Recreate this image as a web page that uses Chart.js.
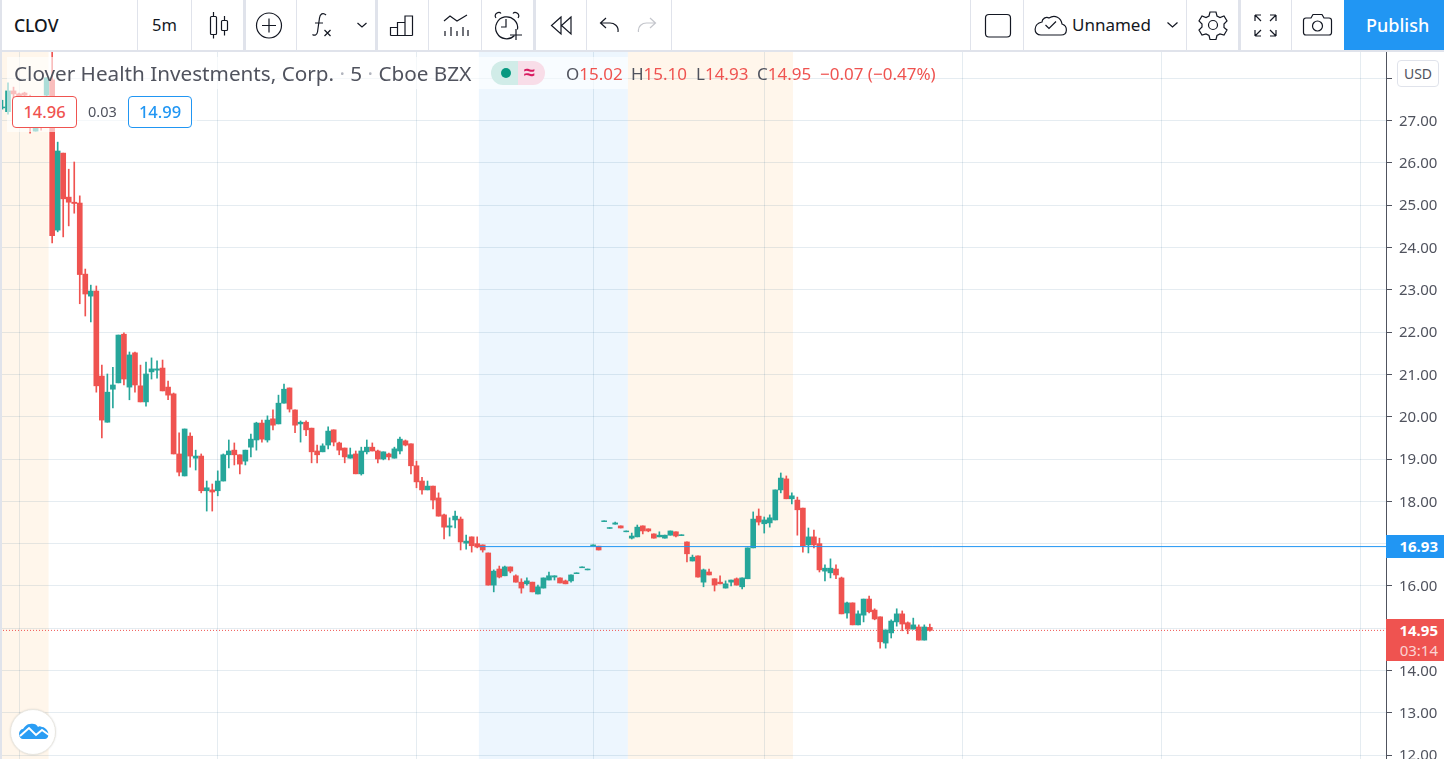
<!DOCTYPE html>
<html>
<head>
<meta charset="utf-8">
<title>CLOV 5m</title>
<script src="https://cdn.jsdelivr.net/npm/chart.js@4"></script>
<style>
  html, body { margin: 0; padding: 0; background: #fff; overflow: hidden; }
  body { width: 1444px; height: 759px; position: relative; font-family: "Noto Sans", sans-serif; color: #131722; }
  #chartCanvas { position: absolute; left: 0; top: 52px; }
  .abs { position: absolute; white-space: nowrap; }
  #topbar { position: absolute; left: 0; top: 0; width: 1444px; height: 50px; background: #fff; border-bottom: 2px solid #e0e3eb; }
  #leftedge { position: absolute; left: 0; top: 0; width: 2px; height: 759px; background: #e0e3eb; }
  .sep { position: absolute; top: 0; width: 1px; height: 50px; background: #e0e3eb; }
  .sep.thick { width: 3px; margin-left: -1px; }
  svg.ic { position: absolute; left: 0; top: 0; }
  .legendbg { position: absolute; background: rgba(255,255,255,.62); }
  .box { position: absolute; height: 30px; line-height: 29px; border: 1px solid; border-radius: 4px; background: #fff; font-size: 16.5px; font-weight: 500; text-align: center; box-sizing: content-box; }
  .tag { position: absolute; left: 1386px; width: 58px; color: #fff; font-size: 15px; font-weight: 700; text-align: right; box-sizing: border-box; padding-right: 6px; }
  .g { color: #50535e; }
  .r { color: #ef5350; }
</style>
</head>
<body>
<canvas id="chartCanvas" width="1444" height="707"></canvas>

<div class="legendbg" style="left:7px;top:57px;width:621px;height:32px"></div>
<div class="legendbg" style="left:7px;top:89px;width:190px;height:43px"></div>

<div id="topbar"></div>
<div id="leftedge"></div>
<div class="sep" style="left:137px"></div>
<div class="sep" style="left:191px"></div>
<div class="sep thick" style="left:244px"></div>
<div class="sep" style="left:296px"></div>
<div class="sep thick" style="left:376px"></div>
<div class="sep" style="left:428px"></div>
<div class="sep" style="left:481px"></div>
<div class="sep thick" style="left:534px"></div>
<div class="sep" style="left:586px"></div>
<div class="sep" style="left:671px"></div>
<div class="sep" style="left:970px"></div>
<div class="sep" style="left:1023px"></div>
<div class="sep" style="left:1186px"></div>
<div class="sep thick" style="left:1239px"></div>
<div class="sep" style="left:1291px"></div>
<div class="abs" style="left:1344px;top:0;width:100px;height:50px;background:#2196f3"></div>

<div class="abs" style="left:14px;top:13px;font-size:17.5px;font-weight:500;line-height:24px">CLOV</div>
<div class="abs" style="left:152px;top:13px;font-size:16.500px;line-height:24px">5m</div>
<div class="abs" style="left:1072px;top:13px;font-size:17px;line-height:24px">Unnamed</div>
<div class="abs" style="left:1366px;top:13px;font-size:18px;font-weight:500;line-height:24px;color:#fff">Publish</div>

<svg class="ic" width="1444" height="50" fill="none" stroke="#131722" stroke-width="1.2">
  <!-- candles -->
  <rect x="210.5" y="16.5" width="6" height="18" rx="1"/><path d="M213.5 12v4.5M213.5 34.500v4"/>
  <rect x="221.500" y="20.500" width="6" height="10" rx="1"/><path d="M224.500 16v4.500M224.500 30.500v5"/>
  <!-- plus -->
  <circle cx="269" cy="25.500" r="12.500"/><path d="M269 18.500v14M262 25.500h14"/>
  <!-- fx -->
  <path d="M326 15c-3-3-6-1-6.500 3l-2 14c-.5 3-3 4-5 2.500M315 23h8M324.500 30l6 6M330.500 30l-6 6"/>
  <path d="M357.500 23l4.500 4 4.500-4M1167.500 22.500l5 4.500 5-4.500"/>
  <!-- bars -->
  <path d="M390.500 35.500v-8h7v8M397.500 35.500v-13h7.500v13M405 35.500v-19.500h7.500v19.500M390.500 35.500h22"/>
  <!-- indicators -->
  <path d="M444 21l6-5 7 5 10-6M445 36v-5M451 36v-9M457 36v-5M463 36v-9M468 36v-6"/>
  <!-- alarm -->
  <path d="M514.500 35.500a11 11 0 1 1 3-6"/><path d="M506 19v8h-5M496 18c-3-4 3-7 5-4.500M518 18c3-4-3-7-5-4.500M510 35h12M516 29v11"/>
  <!-- rewind -->
  <path d="M561 17l-9.500 8.500 9.500 8.500zM571 17l-9.500 8.500 9.500 8.500z"/>
  <path d="M618 32c1-6-4-9-8-9h-9M606 18l-5.500 5 5.500 5"/>
  <path stroke="#c4c6cc" d="M638.500 32c-1-6 4-9 8-9h9M650 18l5.500 5-5.500 5"/>
  <!-- layout square -->
  <rect x="985.500" y="14.500" width="25" height="22.500" rx="3.500"/>
  <!-- cloud -->
  <path d="M1041 35h20c7 0 7-9 1-11-1-6-7-10-13-6-3-2-7 1-7 4-9 2-9 13-1 13z"/><path d="M1045.500 25l3.500 3.500 7-7"/>
  <!-- gear -->
  <circle cx="1213" cy="25" r="4.500"/>
  <path d="M1210 12h6l1 4 3 1.500 4-1.500 3 5-3 3v3.500l3 2.500-3 5-4-1-3 1.500-1 4h-6l-1-4-3-1.500-4 1-3-5 3-3v-3l-3-3 3-5 4 1.500 3-1.500z"/>
  <!-- fullscreen -->
  <path d="M1255 15h6M1255 15v6M1255 15l6 6M1276 15h-6M1276 15v6M1276 15l-6 6M1255 36h6M1255 36v-6M1255 36l6-6M1276 36h-6M1276 36v-6M1276 36l-6-6"/>
  <!-- camera -->
  <path d="M1306 18h5l2-3.500h9l2 3.500h5c1.500 0 2.500 1 2.500 2.500v12c0 1.500-1 2.500-2.500 2.500h-23c-1.500 0-2.500-1-2.500-2.500v-12c0-1.500 1-2.500 2.500-2.500z"/><circle cx="1317.500" cy="26" r="5"/>
</svg>

<div class="abs g" style="left:14px;top:59px;font-size:20.7px;line-height:28px">Clover Health Investments, Corp. <span style="color:#b2b5be">·</span> 5 <span style="color:#b2b5be">·</span> Cboe BZX</div>
<div class="abs" style="left:491px;top:61px;width:27px;height:24px;background:#d1ece8;border-radius:12px 0 0 12px"></div>
<div class="abs" style="left:518px;top:61px;width:27px;height:24px;background:#f8dde8;border-radius:0 12px 12px 0"></div>
<div class="abs" style="left:501px;top:68px;width:10px;height:10px;background:#089981;border-radius:50%"></div>
<div class="abs" style="left:524px;top:59px;font-size:20px;line-height:26px;font-weight:700;color:#d81b60">≈</div>

<div class="abs g" style="left:566px;top:62px;font-size:17px;line-height:24px">O<span class="r">15.02</span></div>
<div class="abs g" style="left:631px;top:62px;font-size:17px;line-height:24px">H<span class="r">15.10</span></div>
<div class="abs g" style="left:696px;top:62px;font-size:17px;line-height:24px">L<span class="r">14.93</span></div>
<div class="abs g" style="left:757px;top:62px;font-size:17px;line-height:24px">C<span class="r">14.95</span></div>
<div class="abs r" style="left:820px;top:62px;font-size:17px;line-height:24px">−0.07 (−0.47%)</div>

<div class="box r" style="left:12px;top:96px;width:63px;border-color:#ef5350">14.96</div>
<div class="abs g" style="left:88px;top:100px;font-size:14.5px;line-height:22px">0.03</div>
<div class="box" style="left:128px;top:96px;width:62px;border-color:#2196f3;color:#2196f3">14.99</div>

<div class="abs" style="left:1397px;top:60px;width:40px;height:25px;line-height:25px;border:1px solid #e0e3eb;border-radius:4px;background:#fff;text-align:center;font-size:14px;color:#50535e">USD</div>

<div class="tag" style="top:535px;height:23px;line-height:23px;background:#2196f3">16.93</div>
<div class="tag" style="top:619px;height:42px;line-height:20px;background:#ef5350;padding-top:1px">14.95<br><span style="font-weight:400;color:rgba(255,255,255,.75)">03:14</span></div>

<div class="abs" style="left:10px;top:709px;width:44px;height:44px;border-radius:50%;background:#fff;border:1px solid #e8e6e0;box-shadow:0 0 2px rgba(0,0,0,.12)"></div>
<svg class="ic" width="70" height="759" style="pointer-events:none">
  <path fill="#2a9df4" d="M19 734c0-3 2-5 4-5 2-3 4-5 7-5 3-1 7 0 8 3 1-1 2-1 4 0 2 0 5 2 6 5 1 3 0 7-3 7h-22c-2 0-4-2-4-5z"/>
  <path fill="none" stroke="#fff" stroke-width="2" d="M20 736l9-8 7 7 6-5 7 5"/>
</svg>

<script>
const candleOpen = [
  27.30,27.21,27.70,27.63,27.65,27.48,26.75,27.06,27.60,27.96,
  24.41,26.23,25.19,25.07,25.05,23.37,22.85,22.97,20.96,19.87,
  20.65,20.80,21.95,20.70,21.51,20.73,20.35,21.06,21.10,21.15,
  20.70,20.54,19.12,18.60,19.54,19.02,19.07,18.25,18.27,18.25,
  18.48,19.10,19.21,19.10,18.95,19.28,19.45,19.85,19.45,19.95,
  19.83,20.32,20.68,20.16,19.83,19.87,19.73,19.19,19.17,19.33,
  19.69,19.38,19.26,19.02,19.12,18.65,19.17,19.28,19.19,19.00,
  19.12,19.02,19.19,19.43,19.36,18.84,18.48,18.27,18.36,18.08,
  17.68,17.39,17.56,17.58,17.01,17.16,17.00,16.97,16.78,16.02,
  16.40,16.24,16.45,16.24,16.09,16.05,16.09,15.81,15.95,16.14,
  16.21,16.19,16.12,16.12,16.29,16.43,16.38,16.95,16.94,17.52,
  17.36,17.46,17.42,17.28,17.13,17.16,17.42,17.35,17.23,17.16,
  17.13,17.20,17.28,17.19,17.04,16.59,16.71,16.09,16.33,16.17,
  16.09,15.95,16.09,16.17,15.98,16.17,16.90,17.65,17.47,17.49,
  17.56,18.27,18.53,18.06,18.03,17.84,16.97,17.16,17.00,16.35,
  16.31,16.40,16.19,15.36,15.60,15.08,15.31,15.69,15.43,15.27,
  14.65,14.89,15.15,15.34,15.13,14.98,15.03,14.72,15.02
];
const candleHigh = [
  27.48,27.89,27.79,27.65,27.67,27.60,27.25,27.20,28.01,28.80,
  26.49,26.23,25.85,26.02,25.22,23.49,23.11,23.09,21.22,21.01,
  21.17,21.93,21.98,21.53,21.53,21.22,21.29,21.39,21.32,21.34,
  20.84,20.56,19.62,19.71,19.62,19.21,19.12,18.48,18.41,18.72,
  19.12,19.45,19.38,19.10,19.21,19.59,19.87,19.92,20.02,20.16,
  20.51,20.77,20.68,20.16,19.90,19.90,19.73,19.33,19.36,19.76,
  19.69,19.40,19.26,19.26,19.19,19.28,19.45,19.38,19.21,19.17,
  19.14,19.28,19.52,19.45,19.36,18.95,18.57,18.48,18.36,18.20,
  17.70,17.61,17.77,17.63,17.20,17.16,17.16,16.97,16.78,16.38,
  16.47,16.47,16.45,16.26,16.17,16.19,16.09,16.02,16.19,16.33,
  16.24,16.19,16.14,16.26,16.31,16.45,16.40,16.97,16.94,17.54,
  17.38,17.51,17.42,17.30,17.25,17.44,17.42,17.35,17.23,17.28,
  17.20,17.30,17.28,17.21,17.04,16.73,16.71,16.40,16.40,16.17,
  16.24,16.12,16.14,16.19,16.19,16.90,17.75,17.82,17.63,17.68,
  18.27,18.67,18.60,18.20,18.10,17.84,17.37,17.32,17.13,16.50,
  16.64,16.50,16.21,15.62,15.60,15.41,15.69,15.76,15.46,15.27,
  14.96,15.20,15.46,15.41,15.15,15.24,15.08,15.08,15.10
];
const candleLow = [
  27.27,27.15,27.32,27.37,27.25,26.70,26.75,26.77,27.25,24.11,
  24.37,24.25,24.51,24.81,22.67,22.38,22.24,20.58,19.50,19.87,
  20.21,20.80,20.75,20.40,20.58,20.35,20.25,20.89,20.91,20.61,
  20.40,19.12,18.60,18.60,18.81,18.74,18.20,17.77,17.77,18.13,
  18.48,18.79,18.86,18.65,18.86,19.05,19.21,19.40,19.40,19.69,
  19.83,20.32,20.11,19.62,19.40,19.55,18.91,18.91,19.17,19.24,
  19.31,19.10,18.91,19.02,18.65,18.62,19.12,19.19,18.91,18.98,
  18.98,19.02,19.12,19.31,18.65,18.32,18.17,18.27,17.82,17.65,
  17.11,17.18,17.37,16.85,16.87,16.80,16.90,16.80,16.02,15.86,
  16.19,16.24,16.31,16.09,15.83,16.02,15.86,15.81,15.95,16.14,
  16.14,16.07,16.05,16.09,16.29,16.43,16.38,16.95,16.85,17.52,
  17.36,17.46,17.37,17.28,17.11,17.16,17.23,17.28,17.13,17.16,
  17.13,17.20,17.16,17.19,16.57,16.59,16.21,15.98,16.26,15.88,
  16.05,15.95,16.00,16.02,15.93,16.17,16.90,17.44,17.25,17.39,
  17.56,18.20,18.06,17.94,17.20,16.80,16.78,16.90,16.33,16.12,
  16.19,16.17,15.34,15.24,15.08,15.08,15.15,15.36,15.20,14.53,
  14.53,14.77,15.05,14.94,14.87,14.98,14.72,14.72,14.93
];
const candleClose = [
  27.32,27.70,27.63,27.58,27.60,27.01,27.06,26.92,28.01,24.28,
  26.28,25.15,25.07,25.04,23.36,22.90,22.97,20.73,19.92,20.58,
  20.75,21.93,20.89,21.46,20.75,20.35,21.01,21.13,21.13,20.61,
  20.51,19.12,18.69,19.71,19.07,19.07,18.25,18.32,18.22,18.48,
  19.10,19.19,19.10,18.88,19.21,19.47,19.85,19.47,19.92,19.80,
  20.32,20.65,20.18,19.80,19.87,19.69,19.17,19.10,19.31,19.66,
  19.40,19.21,19.05,19.10,18.65,19.19,19.28,19.19,19.00,19.17,
  19.05,19.24,19.47,19.33,18.84,18.46,18.27,18.36,18.03,17.65,
  17.39,17.42,17.65,17.04,17.06,16.95,16.92,16.85,16.02,16.35,
  16.21,16.45,16.35,16.09,15.95,16.12,15.86,15.98,16.19,16.24,
  16.24,16.07,16.05,16.26,16.31,16.45,16.40,16.97,16.85,17.54,
  17.38,17.49,17.37,17.30,17.18,17.39,17.30,17.30,17.13,17.20,
  17.20,17.30,17.18,17.21,16.76,16.68,16.21,16.38,16.26,16.02,
  16.05,16.05,16.14,16.02,16.19,16.90,17.58,17.51,17.56,17.61,
  18.27,18.55,18.06,18.13,17.80,16.95,17.16,16.97,16.38,16.42,
  16.42,16.26,15.34,15.60,15.08,15.34,15.69,15.39,15.22,14.68,
  14.96,15.17,15.34,15.10,14.98,15.08,14.72,15.03,14.95
];

const priceTicks = [12,13,14,15,16,17,18,19,20,21,22,23,24,25,26,27,28];
const timeTicks = [3,39,75,107,138,174,210,246];  // bar numbers of the vertical grid lines
const sessionStart = [-1, 86.3, 113.3];
const sessionEnd = [8.35, 113.3, 143.2];
const sessionColor = ['#fff6eb', '#edf6fe', '#fff6eb'];
const drawnLineStart = 86.5;
const drawnLinePrice = 16.93;
const lastPrice = 14.95;

const xMin = -0.45, xMax = 250.64;
const upColor = '#26a69a', downColor = '#ef5350';
const gridColor = 'rgba(0,70,120,.1)';

const candleColors = candleOpen.map((o, i) => candleClose[i] >= o ? upColor : downColor);

const sessionBands = {
  id: 'sessionBands',
  beforeDraw(chart) {
    const { ctx, chartArea, scales } = chart;
    sessionStart.forEach((start, i) => {
      const x1 = Math.max(scales.x.getPixelForValue(start), chartArea.left);
      const x2 = scales.x.getPixelForValue(sessionEnd[i]);
      ctx.fillStyle = sessionColor[i];
      ctx.fillRect(x1, chartArea.top, x2 - x1, chartArea.bottom - chartArea.top);
    });
  }
};

new Chart(document.getElementById('chartCanvas').getContext('2d'), {
  data: {
    datasets: [
      {
        type: 'line',
        data: [{ x: xMin, y: lastPrice }, { x: xMax, y: lastPrice }],
        borderColor: downColor,
        borderWidth: 1,
        borderDash: [1, 2],
        pointRadius: 0,
        order: 4
      },
      {
        type: 'bar',
        data: candleLow.map((low, i) => ({ x: i, y: [low, candleHigh[i]] })),
        backgroundColor: candleColors,
        borderWidth: 0,
        barThickness: 1,
        grouped: false,
        order: 3
      },
      {
        type: 'bar',
        data: candleOpen.map((open, i) => ({ x: i, y: [open, candleClose[i]] })),
        backgroundColor: candleColors,
        borderWidth: 0,
        barThickness: 5,
        grouped: false,
        order: 2
      },
      {
        type: 'line',
        data: [{ x: drawnLineStart, y: drawnLinePrice }, { x: xMax, y: drawnLinePrice }],
        borderColor: '#2196f3',
        borderWidth: 1,
        pointRadius: 0,
        order: 1
      }
    ]
  },
  options: {
    responsive: false,
    animation: false,
    devicePixelRatio: 1,
    layout: { padding: 0 },
    plugins: { legend: { display: false }, tooltip: { enabled: false } },
    scales: {
      x: {
        type: 'linear',
        offset: false,
        min: xMin,
        max: xMax,
        afterBuildTicks(axis) { axis.ticks = timeTicks.map(v => ({ value: v })); },
        afterFit(axis) { axis.height = 0; axis.paddingLeft = 0; axis.paddingRight = 0; },
        ticks: { display: false },
        grid: { color: gridColor, drawTicks: false, offset: false },
        border: { display: false }
      },
      y: {
        type: 'linear',
        position: 'right',
        min: 11.91,
        max: 28.62,
        afterBuildTicks(axis) { axis.ticks = priceTicks.map(v => ({ value: v })); },
        afterFit(axis) { axis.width = 58; axis.paddingTop = 0; axis.paddingBottom = 0; },
        ticks: {
          color: '#50535e',
          font: { family: 'Noto Sans', size: 15 },
          padding: 7,
          labelOffset: 1,
          callback: v => v.toFixed(2)
        },
        grid: { color: gridColor, tickColor: '#50535e', tickLength: 6 },
        border: { color: '#50535e', width: 1 }
      }
    }
  },
  plugins: [sessionBands]
});
</script>
</body>
</html>
